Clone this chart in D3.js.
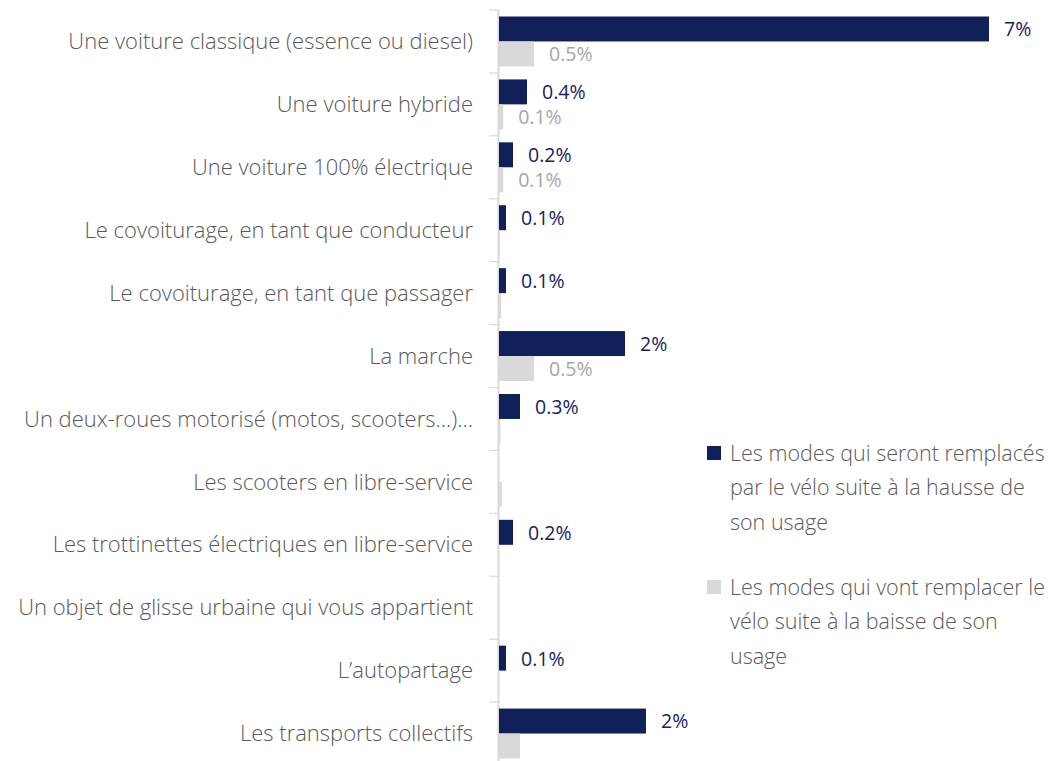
<!DOCTYPE html>
<html lang="fr">
<head>
<meta charset="utf-8">
<title>Modes remplacés par le vélo</title>
<script src="https://cdn.jsdelivr.net/npm/d3@7/dist/d3.min.js"></script>
<style>
  html, body { margin: 0; padding: 0; background: #ffffff; }
  svg { display: block; }
  .cat { font-family: "Open Sans", Lato, sans-serif; font-weight: 300; font-size: 22px; fill: #595959; }
  .val { font-family: "Open Sans", Lato, sans-serif; font-weight: 500; font-size: 19.5px; }
  .leg { font-family: "Open Sans", Lato, sans-serif; font-weight: 300; font-size: 21.5px; fill: #595959; }
</style>
</head>
<body>
<svg id="chart" width="1053" height="761"></svg>
<script>
// Modes de déplacement
const categories = [
  "Une voiture classique (essence ou diesel)",
  "Une voiture hybride",
  "Une voiture 100% électrique",
  "Le covoiturage, en tant que conducteur",
  "Le covoiturage, en tant que passager",
  "La marche",
  "Un deux-roues motorisé (motos, scooters…)…",
  "Les scooters en libre-service",
  "Les trottinettes électriques en libre-service",
  "Un objet de glisse urbaine qui vous appartient",
  "L’autopartage",
  "Les transports collectifs"
];

// Part (%) des modes remplacés par le vélo (hausse de son usage)
const replacedByBike = [7.0, 0.4, 0.2, 0.1, 0.1, 1.8, 0.3, 0, 0.2, 0, 0.1, 2.1];
// Part (%) des modes qui vont remplacer le vélo (baisse de son usage)
const replacingBike  = [0.5, 0.06, 0.06, 0.01, 0.03, 0.5, 0.02, 0.04, 0, 0, 0, 0.3];
// Valeurs non étiquetées pour la série grise
const unlabelledReplacing = ["Les transports collectifs"];

const legendLines = [
  ["Les modes qui seront remplacés", "par le vélo suite à la hausse de", "son usage"],
  ["Les modes qui vont remplacer le", "vélo suite à la baisse de son", "usage"]
];

const colors = { replaced: "#12205a", replacing: "#d9d9d9" };
const labelColors = { replaced: "#16235c", replacing: "#a6a6a6" };

const svg = d3.select("#chart");
const x0 = 499;

const x = d3.scaleLinear().domain([0, 7]).range([x0, x0 + 490]);
const y = d3.scaleBand().domain(categories).range([10, 765]).padding(0);
const sub = d3.scaleBand().domain(["replaced", "replacing"]).range([0, y.bandwidth()]).paddingInner(0).paddingOuter(0.26);

const fmt = v => (v >= 1 ? d3.format(".0f")(v) : d3.format(".1f")(v)) + "%";

// Axe vertical avec graduations aux limites des catégories
const axisG = svg.append("g");
axisG.append("line")
  .attr("x1", x0 - 0.5).attr("x2", x0 - 0.5)
  .attr("y1", y.range()[0]).attr("y2", 770)
  .attr("stroke", "#d9d9d9").attr("stroke-width", 2);
const boundaries = categories.map(c => y(c)).concat([y(categories[categories.length - 1]) + y.bandwidth()]);
axisG.selectAll("line.tick").data(boundaries).join("line")
  .attr("class", "tick")
  .attr("x1", x0 - 10).attr("x2", x0 - 1)
  .attr("y1", d => d).attr("y2", d => d)
  .attr("stroke", "#d9d9d9").attr("stroke-width", 1.2);

// Libellés des catégories
svg.append("g").selectAll("text").data(categories).join("text")
  .attr("class", "cat")
  .attr("x", 473)
  .attr("y", d => y(d) + y.bandwidth() / 2)
  .attr("dy", "0.35em")
  .attr("text-anchor", "end")
  .text(d => d);

// Barres
const rows = categories.map((c, i) => ({ c, replaced: replacedByBike[i], replacing: replacingBike[i] }));
const series = ["replaced", "replacing"];

series.forEach(key => {
  const g = svg.append("g");
  g.selectAll("rect").data(rows.filter(r => r[key] > 0)).join("rect")
    .attr("x", x0)
    .attr("y", d => y(d.c) + sub(key))
    .attr("width", d => x(d[key]) - x0)
    .attr("height", sub.bandwidth())
    .attr("fill", colors[key]);

  const labelled = rows.filter(r => r[key] >= 0.05 && !(key === "replacing" && unlabelledReplacing.includes(r.c)));
  g.selectAll("text").data(labelled).join("text")
    .attr("class", "val")
    .attr("x", d => x(d[key]) + 15)
    .attr("y", d => y(d.c) + sub(key) + sub.bandwidth() / 2)
    .attr("dy", "0.38em")
    .attr("fill", labelColors[key])
    .text(d => fmt(d[key]));
});

// Légende
const legend = svg.append("g");
const legendTop = [453, 587];
series.forEach((key, i) => {
  legend.append("rect")
    .attr("x", 707).attr("y", legendTop[i] - 7)
    .attr("width", 14).attr("height", 14)
    .attr("fill", colors[key]);
  const t = legend.append("text").attr("class", "leg");
  legendLines[i].forEach((line, j) => {
    t.append("tspan")
      .attr("x", 730)
      .attr("y", legendTop[i] + j * 34.5)
      .attr("dy", "0.35em")
      .text(line);
  });
});
</script>
</body>
</html>
